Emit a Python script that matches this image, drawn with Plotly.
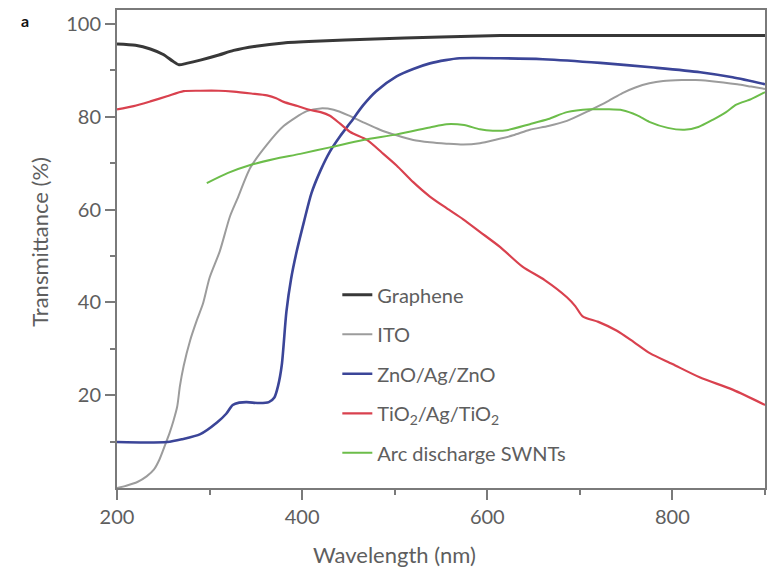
import plotly.graph_objects as go

# ---- data ----
wl_graphene = [200, 220, 236, 250, 260, 267, 275, 290, 310, 326, 350, 380, 420, 470, 550, 614, 700, 800, 900]
graphene = [95.7, 95.4, 94.6, 93.4, 92.0, 91.2, 91.5, 92.2, 93.3, 94.3, 95.2, 95.9, 96.3, 96.7, 97.2, 97.5, 97.5, 97.5, 97.5]

wl_ito = [200, 210, 222, 232, 240, 246, 252, 257, 261, 265, 268, 272, 279, 286, 293, 300, 311, 322, 330, 344,
          362, 380, 405, 420, 434, 450, 466, 484, 502, 520, 538, 556, 574, 592, 610, 628, 646, 666, 686, 711,
          730, 746, 760, 775, 790, 810, 825, 840, 855, 870, 885, 900]
ito = [0, 0.5, 1.3, 2.5, 4.0, 6.2, 9.3, 12, 14.5, 17.5, 22, 26.3, 31.8, 36, 39.8, 45.3, 51, 58.5, 62.3, 69.0,
       74.0, 78.0, 81.2, 81.8, 81.5, 80.3, 78.8, 77.2, 76.0, 75.0, 74.5, 74.2, 74.0, 74.3, 75.1, 76.0, 77.2, 78.0, 79.1, 81.4,
       83.3, 85.1, 86.3, 87.2, 87.7, 87.9, 87.9, 87.7, 87.4, 87.0, 86.5, 86.0]

wl_zno = [200, 230, 254, 270, 290, 308, 318, 325, 332, 340, 354, 364, 370, 374, 378, 383, 388, 394, 402, 410,
          420, 430, 441, 452, 466, 480, 502, 520, 538, 555, 570, 614, 660, 722, 780, 830, 865, 900]
zno = [9.9, 9.8, 9.9, 10.5, 11.6, 14.1, 16.0, 17.9, 18.4, 18.5, 18.3, 18.5, 19.5, 22.0, 26.5, 38, 45, 50.9, 57.4, 63.5,
       68.5, 72.5, 75.8, 78.7, 82.5, 85.5, 88.7, 90.3, 91.5, 92.2, 92.6, 92.6, 92.4, 91.6, 90.6, 89.6, 88.5, 87.0]

wl_tio2 = [200, 218, 236, 254, 272, 290, 310, 326, 345, 362, 372, 380, 395, 408, 420, 430, 441, 452, 470, 486,
           502, 520, 538, 556, 574, 592, 614, 638, 662, 686, 695, 703, 720, 740, 758, 776, 800, 830, 865, 900]
tio2 = [81.6, 82.3, 83.3, 84.4, 85.5, 85.6, 85.6, 85.4, 85.0, 84.6, 84.0, 83.2, 82.3, 81.5, 81.0, 80.2, 78.5, 76.7, 75.0, 72.3,
        69.5, 65.9, 62.8, 60.3, 57.9, 55.2, 51.9, 47.7, 44.8, 41.1, 39.2, 37.0, 35.8, 33.9, 31.5, 29.0, 26.7, 23.8, 21.2, 17.9]

wl_swnt = [297, 320, 344, 370, 398, 430, 466, 502, 538, 556, 575, 592, 606, 621, 646, 666, 686, 711, 730, 746,
           762, 775, 795, 813, 828, 844, 858, 869, 885, 900]
swnt = [65.7, 67.9, 69.6, 70.9, 72.0, 73.4, 75.0, 76.2, 77.7, 78.4, 78.2, 77.3, 77.0, 77.1, 78.4, 79.5, 81.0, 81.6, 81.6, 81.4,
        80.3, 78.9, 77.6, 77.2, 77.8, 79.4, 81.0, 82.6, 83.8, 85.3]

x_ticks = [200, 400, 600, 800]
x_minor = [300, 500, 700, 900]
y_ticks = [20, 40, 60, 80, 100]
y_minor = [10, 30, 50, 70, 90]

FONT = "Lato"
AX = "#7a7a7a"
TXT = "#5e5e5e"

series = [
    ("Graphene", wl_graphene, graphene, "#383838", 3),
    ("ITO", wl_ito, ito, "#9c9c9c", 2),
    ("ZnO/Ag/ZnO", wl_zno, zno, "#3b4598", 2.6),
    ("TiO<sub>2</sub>/Ag/TiO<sub>2</sub>", wl_tio2, tio2, "#d9414e", 2.2),
    ("Arc discharge SWNTs", wl_swnt, swnt, "#6cbd4a", 2),
]

fig = go.Figure()
for name, x, y, c, w in series:
    fig.add_trace(go.Scatter(x=x, y=y, mode="lines", name=name, legendgroup=name,
                             line=dict(color=c, width=w, shape="spline", smoothing=0.7)))

# page body has an 8px default margin, so the figure is 8px smaller and margins shifted
fig.update_layout(
    width=768, height=564, autosize=False,
    margin=dict(l=109, r=11, t=0, b=84),
    paper_bgcolor="white", plot_bgcolor="white",
    font=dict(family=FONT, color=TXT, size=20),
    showlegend=True,
    legend=dict(x=0.34, y=0.445, xanchor="left", yanchor="top",
                bgcolor="rgba(0,0,0,0)", font=dict(size=20, color=TXT, family=FONT),
                tracegroupgap=10.5, itemwidth=30),
    xaxis=dict(range=[200, 900], tickvals=x_ticks, ticks="outside", ticklen=10, tickwidth=2,
               tickcolor=AX, showline=True, linecolor=AX, linewidth=2, mirror=True,
               showgrid=False, zeroline=False, tickfont=dict(size=20, color=TXT),
               minor=dict(tickvals=x_minor, ticks="outside", ticklen=5, tickwidth=2, tickcolor=AX, showgrid=False)),
    yaxis=dict(range=[0, 103], tickvals=y_ticks, ticks="outside", ticklen=10, tickwidth=2,
               tickcolor=AX, showline=True, linecolor=AX, linewidth=2, mirror=True,
               showgrid=False, zeroline=False, tickfont=dict(size=20, color=TXT),
               minor=dict(tickvals=y_minor, ticks="outside", ticklen=5, tickwidth=2, tickcolor=AX, showgrid=False)),
    annotations=[
        dict(text="Wavelength (nm)", xref="paper", yref="paper", x=0.429, y=-0.139,
             xanchor="center", yanchor="middle", showarrow=False, font=dict(size=22, color=TXT)),
        dict(text="Transmittance (%)", xref="paper", yref="paper", x=-0.119, y=0.515,
             xanchor="center", yanchor="middle", textangle=-90, showarrow=False, font=dict(size=22, color=TXT)),
        dict(text="<b>a</b>", xref="paper", yref="paper", x=-0.142, y=0.977,
             xanchor="center", yanchor="middle", showarrow=False, font=dict(size=16, color="#111")),
    ],
)

fig.write_html("out.html")
